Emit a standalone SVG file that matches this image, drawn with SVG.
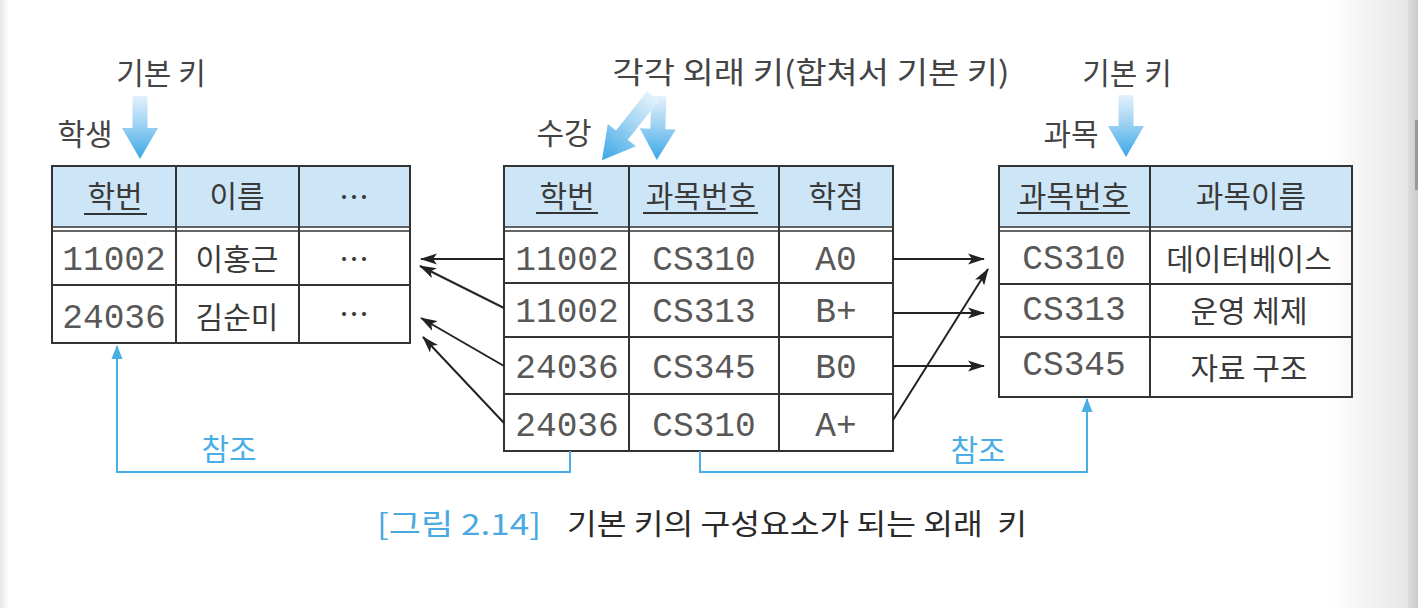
<svg xmlns="http://www.w3.org/2000/svg" width="1418" height="608" viewBox="0 0 1418 608">
<defs>
<linearGradient id="bgR" x1="0" y1="0" x2="1" y2="0">
<stop offset="0" stop-color="#ffffff"/>
<stop offset="1" stop-color="#e6e6e6"/>
</linearGradient>
<linearGradient id="bgL" x1="0" y1="0" x2="1" y2="0">
<stop offset="0" stop-color="#e8e8e8"/>
<stop offset="1" stop-color="#ffffff"/>
</linearGradient>
<linearGradient id="strip" x1="0" y1="0" x2="1" y2="0">
<stop offset="0" stop-color="#dcdcdc"/>
<stop offset="1" stop-color="#cacaca"/>
</linearGradient>
<linearGradient id="blueArrow" x1="0" y1="0" x2="0" y2="1">
<stop offset="0" stop-color="#e4f2fc"/>
<stop offset="0.45" stop-color="#9fd2f3"/>
<stop offset="1" stop-color="#3aa8e6"/>
</linearGradient>
<marker id="blk" markerWidth="18" markerHeight="12" refX="16" refY="6" orient="auto" markerUnits="userSpaceOnUse">
<path d="M0,0.5 L17,6 L0,11.5 L4,6 Z" fill="#222"/>
</marker>
<marker id="blu" markerWidth="14" markerHeight="12" refX="13" refY="6" orient="auto" markerUnits="userSpaceOnUse">
<path d="M0,0.5 L14,6 L0,11.5 Z" fill="#4aaee6"/>
</marker>
</defs>
<style>
.kr{font-family:'Noto Sans CJK KR','Noto Sans',sans-serif;fill:#3a3a3a;font-size:30px;text-anchor:middle;dominant-baseline:central}
.lbl{font-family:'Noto Sans CJK KR','Noto Sans',sans-serif;fill:#444;font-size:30px;text-anchor:middle;dominant-baseline:central}
.mono{font-family:'Liberation Mono','Courier New','Noto Sans CJK KR',monospace;fill:#585858;font-size:34.5px;text-anchor:middle}
.hdr{fill:#cde6f7}
.frame{fill:none;stroke:#333;stroke-width:2}
.ln{stroke:#333;stroke-width:2;fill:none}
.dbl{stroke:#333;stroke-width:1.5;fill:none}
.ul{stroke:#333;stroke-width:2}
.conn{stroke:#222;stroke-width:2;fill:none;marker-end:url(#blk)}
.ref{stroke:#4aaee6;stroke-width:2;fill:none;marker-end:url(#blu)}
.reftxt{font-family:'Noto Sans CJK KR','Noto Sans',sans-serif;fill:#4aaee6;font-size:30px;text-anchor:middle;dominant-baseline:central}
.bluearrow{fill:url(#blueArrow)}
</style>
<rect x="0" y="0" width="1418" height="608" fill="#ffffff"/>
<rect x="0" y="0" width="9" height="608" fill="url(#bgL)"/>
<rect x="1330" y="0" width="78" height="608" fill="url(#bgR)"/>
<rect x="1408" y="0" width="10" height="608" fill="url(#strip)"/>
<rect x="1415" y="120" width="3" height="70" fill="#9a9a9a"/>

<g id="labels">
<text class="lbl" x="161" y="71">기본 키</text>
<text class="lbl" x="811" y="70" textLength="397" lengthAdjust="spacingAndGlyphs">각각 외래 키(합쳐서 기본 키)</text>
<text class="lbl" x="1127" y="71">기본 키</text>
<text class="lbl" x="85" y="132">학생</text>
<text class="lbl" x="564" y="131">수강</text>
<text class="lbl" x="1071" y="132">과목</text>
</g>

<g id="key-arrows">
<polygon class="bluearrow" transform="translate(140,96)" points="-7.5,0 7.5,0 7.5,32 18,32 0,63 -18,32 -7.5,32"/>
<polygon class="bluearrow" transform="translate(1126,95)" points="-7.5,0 7.5,0 7.5,31 18,31 0,62 -18,31 -7.5,31"/>
<polygon class="bluearrow" transform="translate(659,96) rotate(2)" points="-7.5,0 7.5,0 7.5,33 18,33 0,64 -18,33 -7.5,33"/>
<polygon class="bluearrow" transform="translate(653,96) rotate(38.5)" points="-7.5,0 7.5,0 7.5,50 18,50 0,82 -18,50 -7.5,50"/>
</g>

<g id="table-student">
<rect class="hdr" x="52" y="166" width="358" height="61"/>
<rect class="frame" x="52" y="166" width="358" height="177"/>
<line class="dbl" x1="52" y1="227" x2="410" y2="227"/>
<line class="dbl" x1="52" y1="231" x2="410" y2="231"/>
<line class="ln" x1="52" y1="285" x2="410" y2="285"/>
<line class="ln" x1="176" y1="166" x2="176" y2="343"/>
<line class="ln" x1="299" y1="166" x2="299" y2="343"/>
<text class="kr" x="115" y="194">학번</text>
<line class="ul" x1="84" y1="214" x2="147" y2="214"/>
<text class="kr" x="237" y="194">이름</text>
<text class="kr" x="354" y="195">⋯</text>
<text class="mono" x="114" y="270">11002</text>
<text class="kr" x="237" y="257">이홍근</text>
<text class="kr" x="354" y="257">⋯</text>
<text class="mono" x="114" y="328">24036</text>
<text class="kr" x="237" y="315">김순미</text>
<text class="kr" x="354" y="312">⋯</text>
</g>

<g id="table-enroll">
<rect class="hdr" x="504" y="166" width="389" height="61"/>
<rect class="frame" x="504" y="166" width="389" height="285"/>
<line class="dbl" x1="504" y1="227" x2="893" y2="227"/>
<line class="dbl" x1="504" y1="231" x2="893" y2="231"/>
<line class="ln" x1="504" y1="283" x2="893" y2="283"/>
<line class="ln" x1="504" y1="337" x2="893" y2="337"/>
<line class="ln" x1="504" y1="394" x2="893" y2="394"/>
<line class="ln" x1="629" y1="166" x2="629" y2="451"/>
<line class="ln" x1="779" y1="166" x2="779" y2="451"/>
<text class="kr" x="567" y="194">학번</text>
<line class="ul" x1="536" y1="213" x2="598" y2="213"/>
<text class="kr" x="701" y="194">과목번호</text>
<line class="ul" x1="643" y1="213" x2="758" y2="213"/>
<text class="kr" x="836" y="194">학점</text>
<text class="mono" x="567" y="270">11002</text>
<text class="mono" x="704" y="270">CS310</text>
<text class="mono" x="836" y="270">A0</text>
<text class="mono" x="567" y="322">11002</text>
<text class="mono" x="704" y="322">CS313</text>
<text class="mono" x="836" y="322">B+</text>
<text class="mono" x="567" y="378">24036</text>
<text class="mono" x="704" y="378">CS345</text>
<text class="mono" x="836" y="378">B0</text>
<text class="mono" x="567" y="436">24036</text>
<text class="mono" x="704" y="436">CS310</text>
<text class="mono" x="836" y="436">A+</text>
</g>

<g id="table-course">
<rect class="hdr" x="999" y="166" width="353" height="61"/>
<rect class="frame" x="999" y="166" width="353" height="231"/>
<line class="dbl" x1="999" y1="227" x2="1352" y2="227"/>
<line class="dbl" x1="999" y1="231" x2="1352" y2="231"/>
<line class="ln" x1="999" y1="284" x2="1352" y2="284"/>
<line class="ln" x1="999" y1="337" x2="1352" y2="337"/>
<line class="ln" x1="1150" y1="166" x2="1150" y2="397"/>
<text class="kr" x="1074" y="194">과목번호</text>
<line class="ul" x1="1017" y1="213" x2="1130" y2="213"/>
<text class="kr" x="1251" y="194">과목이름</text>
<text class="mono" x="1074" y="269">CS310</text>
<text class="kr" x="1249" y="257">데이터베이스</text>
<text class="mono" x="1074" y="320">CS313</text>
<text class="kr" x="1249" y="309">운영 체제</text>
<text class="mono" x="1074" y="375">CS345</text>
<text class="kr" x="1249" y="366">자료 구조</text>
</g>

<g id="connectors">
<line class="conn" x1="504" y1="259" x2="421" y2="259"/>
<line class="conn" x1="504" y1="308" x2="420" y2="266"/>
<line class="conn" x1="504" y1="366" x2="421" y2="318"/>
<line class="conn" x1="504" y1="423" x2="423" y2="337"/>
<line class="conn" x1="893" y1="259" x2="984" y2="259"/>
<line class="conn" x1="893" y1="313" x2="984" y2="313"/>
<line class="conn" x1="893" y1="366" x2="984" y2="366"/>
<line class="conn" x1="893" y1="420" x2="988" y2="269"/>
<path class="ref" d="M570,451 V472 H117 V346"/>
<path class="ref" d="M700,451 V472 H1087 V399"/>
<text class="reftxt" x="229" y="447">참조</text>
<text class="reftxt" x="978" y="448">참조</text>
</g>

<g id="caption">
<text x="377" y="522" font-family="'Noto Sans CJK KR','Noto Sans',sans-serif" font-size="29" fill="#4aa9e0" dominant-baseline="central" textLength="164" lengthAdjust="spacingAndGlyphs">[그림 2.14]</text>
<text x="567" y="522" font-family="'Noto Sans CJK KR','Noto Sans',sans-serif" font-size="29" fill="#2a2a2a" dominant-baseline="central" textLength="460" lengthAdjust="spacingAndGlyphs" xml:space="preserve">기본 키의 구성요소가 되는 외래  키</text>
</g>
</svg>
